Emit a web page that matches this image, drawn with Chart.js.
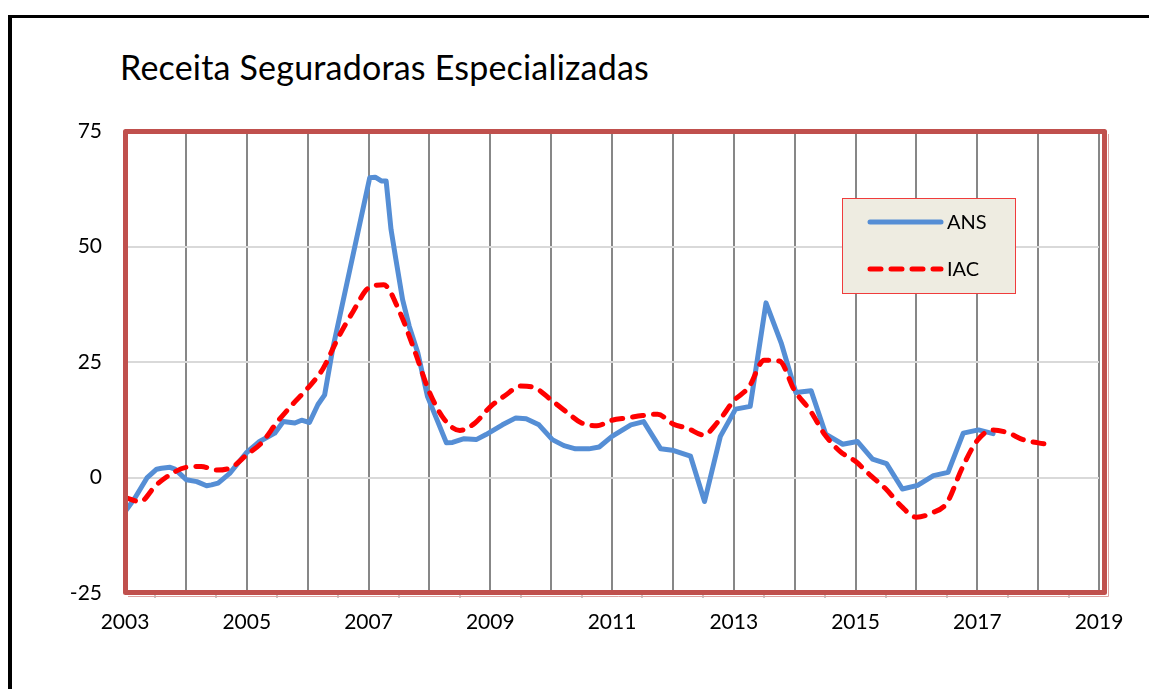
<!DOCTYPE html>
<html lang="pt">
<head>
<meta charset="utf-8">
<title>Receita Seguradoras Especializadas</title>
<script src="https://cdn.jsdelivr.net/npm/chart.js@4.4.1/dist/chart.umd.min.js"></script>
<style>
    html, body { margin: 0; padding: 0; background: #fff; }
    #wrap { position: relative; width: 1149px; height: 689px; overflow: hidden; }
    #frame { position: absolute; left: 8px; top: 15px; right: -10px; bottom: -10px; border-top: 3px solid #000; border-left: 4px solid #000; }
    #title { position: absolute; left: 120px; top: 50px; font-family: Lato, sans-serif; font-size: 34px; letter-spacing: 0.2px; line-height: 1; color: #000; white-space: nowrap; }
    #chart { position: absolute; left: 0; top: 0; }
</style>
</head>
<body>
<div id="wrap">
    <div id="frame"></div>
    <div id="title">Receita Seguradoras Especializadas</div>
    <canvas id="chart" width="1149" height="689"></canvas>
</div>
<script>
// ANS series (vertices)
const ansYears = [
    2003.00, 2003.16, 2003.36, 2003.52, 2003.60, 2003.74, 2003.82, 2004.01, 2004.18, 2004.34,
    2004.42, 2004.53, 2004.72, 2004.99, 2005.21, 2005.46, 2005.60, 2005.79, 2005.90, 2006.03,
    2006.17, 2006.28, 2006.41, 2007.02, 2007.11, 2007.21, 2007.29, 2007.37, 2007.45, 2007.56,
    2007.67, 2007.81, 2007.97, 2008.28, 2008.38, 2008.57, 2008.77, 2008.93, 2009.20, 2009.42,
    2009.59, 2009.80, 2010.02, 2010.21, 2010.40, 2010.62, 2010.79, 2011.00, 2011.31, 2011.52,
    2011.80, 2011.99, 2012.29, 2012.52, 2012.78, 2013.03, 2013.27, 2013.53, 2013.78, 2014.02,
    2014.27, 2014.51, 2014.79, 2015.03, 2015.28, 2015.51, 2015.77, 2016.02, 2016.28, 2016.52,
    2016.77, 2017.02, 2017.26
];
const ansValues = [
    -7.4, -4.5, -0.1, 1.8, 2.0, 2.2, 1.8, -0.5, -0.9, -1.8,
    -1.6, -1.2, 0.9, 5.3, 7.8, 9.6, 12.1, 11.8, 12.4, 11.9,
    15.8, 17.9, 27.7, 64.9, 65.0, 64.2, 64.2, 53.7, 47.2, 38.5,
    32.7, 27.0, 17.5, 7.5, 7.6, 8.4, 8.2, 9.3, 11.4, 12.9,
    12.7, 11.4, 8.2, 6.9, 6.2, 6.2, 6.6, 8.9, 11.4, 12.1,
    6.2, 5.9, 4.6, -5.2, 8.9, 14.8, 15.4, 37.8, 29.1, 18.4,
    18.8, 9.4, 7.2, 7.8, 4.0, 3.0, -2.5, -1.7, 0.4, 1.1,
    9.6, 10.3, 9.5
];

// IAC series (quarterly)
const iacYears = [
    2003.00, 2003.25, 2003.50, 2003.75, 2004.00, 2004.25, 2004.50, 2004.75,
    2005.00, 2005.25, 2005.50, 2005.75, 2006.00, 2006.25, 2006.50, 2006.75,
    2007.00, 2007.25, 2007.50, 2007.75, 2008.00, 2008.25, 2008.50, 2008.75,
    2009.00, 2009.25, 2009.50, 2009.75, 2010.00, 2010.25, 2010.50, 2010.75,
    2011.00, 2011.25, 2011.50, 2011.75, 2012.00, 2012.25, 2012.50, 2012.75,
    2013.00, 2013.25, 2013.50, 2013.75, 2014.00, 2014.25, 2014.50, 2014.75,
    2015.00, 2015.25, 2015.50, 2015.75, 2016.00, 2016.25, 2016.50, 2016.75,
    2017.00, 2017.25, 2017.50, 2017.75, 2018.00, 2018.25
];
const iacValues = [
    -4.3, -5.2, -1.8, 0.7, 2.2, 2.4, 1.6, 2.2,
    4.9, 7.6, 12.0, 15.8, 19.3, 23.5, 30.2, 36.0,
    41.0, 41.7, 36.2, 27.7, 18.5, 12.5, 10.2, 11.8,
    15.3, 17.8, 19.8, 19.3, 16.8, 14.2, 11.8, 11.2,
    12.4, 12.9, 13.4, 13.7, 11.6, 10.6, 9.2, 12.2,
    16.6, 19.6, 25.4, 25.2, 18.8, 14.6, 9.2, 5.6,
    3.5, 0.4, -2.5, -6.2, -8.6, -7.7, -5.5, 2.0,
    8.0, 10.3, 9.7, 8.2, 7.5, 7.0
];

const seriesNames = ['ANS', 'IAC'];
const yTicks = [-25, 0, 25, 50, 75];
const xMin = 2003;
const xMax = 2019;

const ansColor = '#558ED5';
const iacColor = '#FF0000';
const frameRed = '#C0504D';
const tickFont = { family: 'Lato, sans-serif', size: 21 };

const toPoints = (xs, ys) => xs.map((x, i) => ({ x: x, y: ys[i] }));

// red plot frame + legend box
const framePlugin = {
    id: 'frame',
    afterDatasetsDraw(chart) {
        const { ctx, chartArea } = chart;
        ctx.save();
        // light shadow line on right/bottom
        ctx.strokeStyle = '#DDA3A1';
        ctx.lineWidth = 1;
        ctx.beginPath();
        ctx.moveTo(chartArea.left + 3, chartArea.bottom + 3.5);
        ctx.lineTo(chartArea.right + 9.5, chartArea.bottom + 3.5);
        ctx.lineTo(chartArea.right + 9.5, chartArea.top + 3);
        ctx.stroke();
        ctx.strokeStyle = frameRed;
        ctx.lineWidth = 5;
        ctx.lineJoin = 'round';
        ctx.strokeRect(chartArea.left + 0.5, chartArea.top + 0.5,
            chartArea.right + 5 - chartArea.left, chartArea.bottom - 1 - chartArea.top);
        ctx.restore();
    },
    afterDraw(chart) {
        const { ctx } = chart;
        const box = { left: 842, top: 198, width: 173, height: 95 };
        ctx.save();
        ctx.fillStyle = '#EEECE1';
        ctx.fillRect(box.left, box.top, box.width, box.height);
        ctx.strokeStyle = '#F03C3C';
        ctx.lineWidth = 1;
        ctx.strokeRect(box.left + 0.5, box.top + 0.5, box.width, box.height);

        const rows = [222, 269];
        chart.data.datasets.forEach((ds, i) => {
            const y = rows[i];
            ctx.beginPath();
            ctx.lineWidth = ds.borderWidth;
            ctx.strokeStyle = ds.borderColor;
            ctx.lineCap = 'round';
            ctx.setLineDash(ds.borderDash || []);
            ctx.moveTo(870, y);
            ctx.lineTo(941, y);
            ctx.stroke();
            ctx.setLineDash([]);
            ctx.fillStyle = '#000';
            ctx.font = '20px Lato, sans-serif';
            ctx.textBaseline = 'middle';
            ctx.textAlign = 'left';
            ctx.fillText(ds.label, 947, y + 1);
        });
        ctx.restore();
    }
};

const ctx = document.getElementById('chart').getContext('2d');
const chart = new Chart(ctx, {
    type: 'line',
    data: {
        datasets: [
            {
                label: seriesNames[0],
                data: toPoints(ansYears, ansValues),
                borderColor: ansColor,
                borderWidth: 5,
                borderJoinStyle: 'round',
                borderCapStyle: 'round',
                pointRadius: 0,
                tension: 0,
                order: 1,
            },
            {
                label: seriesNames[1],
                data: toPoints(iacYears, iacValues),
                borderColor: iacColor,
                borderWidth: 5,
                borderDash: [11, 10],
                borderCapStyle: 'round',
                pointRadius: 0,
                cubicInterpolationMode: 'monotone',
                order: 0,
            },
        ],
    },
    options: {
        responsive: false,
        animation: false,
        events: [],
        layout: {
            padding: { top: 131, right: 50, bottom: 0, left: 0 },
        },
        scales: {
            x: {
                type: 'linear',
                min: xMin,
                max: xMax,
                afterBuildTicks: (scale) => {
                    const ticks = [];
                    for (let v = xMin; v <= xMax; v += 0.5) {
                        ticks.push({ value: v });
                    }
                    scale.ticks = ticks;
                },
                afterFit: (scale) => {
                    scale.height = 96;
                },
                border: { display: false },
                grid: {
                    lineWidth: 2,
                    tickLength: 5,
                    color: (c) => (c.tick && Number.isInteger(c.tick.value) ? '#878787' : 'rgba(0,0,0,0)'),
                    tickColor: (c) => (c.tick && !Number.isInteger(c.tick.value) ? '#C8C8C8' : 'rgba(0,0,0,0)'),
                },
                ticks: {
                    autoSkip: false,
                    maxRotation: 0,
                    padding: 12,
                    color: '#000',
                    font: tickFont,
                    callback: (v) => (Number.isInteger(v) && (v - xMin) % 2 === 0 ? String(v) : ''),
                },
            },
            y: {
                min: yTicks[0],
                max: yTicks[yTicks.length - 1],
                afterBuildTicks: (scale) => {
                    scale.ticks = yTicks.map((v) => ({ value: v }));
                },
                afterFit: (scale) => {
                    scale.width = 125;
                },
                border: { display: false },
                grid: {
                    lineWidth: 2,
                    drawTicks: false,
                    color: (c) => (c.tick && c.tick.value > yTicks[0] && c.tick.value < yTicks[yTicks.length - 1] ? '#D9D9D9' : 'rgba(0,0,0,0)'),
                },
                ticks: {
                    padding: 23,
                    color: '#000',
                    font: tickFont,
                },
            },
        },
        plugins: {
            legend: { display: false },
            title: { display: false },
            tooltip: { enabled: false },
        },
    },
    plugins: [framePlugin],
});
</script>
</body>
</html>
